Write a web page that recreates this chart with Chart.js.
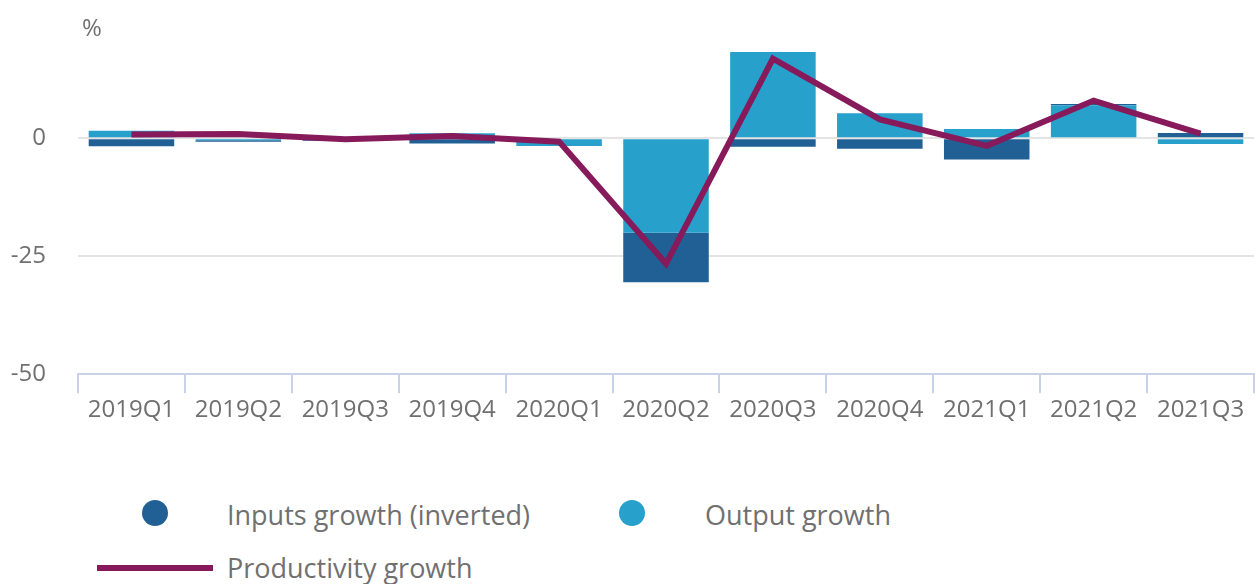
<!DOCTYPE html>
<html>
<head>
<meta charset="utf-8">
<script src="https://cdn.jsdelivr.net/npm/chart.js@4"></script>
<style>
  body { margin: 0; background: #fff; font-family: "Open Sans", sans-serif; }
  #wrap { position: relative; width: 1256px; height: 584px; overflow: hidden; }
  #chart { position: absolute; left: 0; top: -26px; }
  .leg { position: absolute; color: #707070; font-size: 27px; line-height: 30px; white-space: nowrap; }
  .unit { position: absolute; left: 82px; top: 12px; color: #707070; font-size: 24px; line-height: 30px; }
  .dot { position: absolute; width: 26px; height: 26px; border-radius: 50%; }
  .bar { position: absolute; height: 6px; background: #871a5b; }
</style>
</head>
<body>
<div id="wrap">
  <canvas id="chart" width="1256" height="466"></canvas>
  <div class="unit">%</div>
  <div class="dot" style="left:142px; top:500px; background:#206095;"></div>
  <div class="leg" style="left:227px; top:500px;">Inputs growth (inverted)</div>
  <div class="dot" style="left:619px; top:500px; background:#27a0cc;"></div>
  <div class="leg" style="left:705px; top:500px;">Output growth</div>
  <div class="bar" style="left:97px; top:565px; width:116px;"></div>
  <div class="leg" style="left:227px; top:553px;">Productivity growth</div>
</div>
<script>
const quarters = ["2019Q1", "2019Q2", "2019Q3", "2019Q4", "2020Q1", "2020Q2", "2020Q3", "2020Q4", "2021Q1", "2021Q2", "2021Q3"];
const outputGrowth = [1.6, -0.4, -0.3, 1.1, -1.6, -20.0, 18.3, 5.3, 2.0, 7.0, -1.2];
const inputsInverted = [-1.7, -0.3, -0.2, -1.1, 0.0, -10.5, -1.8, -2.2, -4.5, 0.3, 1.15];
const productivity = [0.8, 0.9, -0.2, 0.5, -0.7, -26.6, 16.9, 4.0, -1.6, 8.0, 1.0];
const yTicks = [-50, -25, 0];

const textColor = "#707070";

new Chart(document.getElementById("chart"), {
  type: "bar",
  data: {
    labels: quarters,
    datasets: [
      {
        type: "line",
        label: "Productivity growth",
        data: productivity,
        borderColor: "#871a5b",
        borderWidth: 6,
        pointRadius: 0,
        tension: 0,
        fill: false,
        stack: "prod",
        order: 0
      },
      {
        label: "Output growth",
        data: outputGrowth,
        backgroundColor: "#27a0cc",
        stack: "bars",
        order: 1,
        barPercentage: 0.8,
        categoryPercentage: 1
      },
      {
        label: "Inputs growth (inverted)",
        data: inputsInverted,
        backgroundColor: "#206095",
        stack: "bars",
        order: 1,
        barPercentage: 0.8,
        categoryPercentage: 1
      }
    ]
  },
  options: {
    responsive: false,
    animation: false,
    layout: { padding: { top: 20, right: 2, bottom: 12, left: 0 } },
    plugins: { legend: { display: false }, tooltip: { enabled: false } },
    scales: {
      x: {
        stacked: true,
        grid: { drawOnChartArea: false, drawTicks: true, tickLength: 19, color: "#c8d3e8", lineWidth: 2, offset: true },
        border: { color: "#c8d3e8", width: 2 },
        ticks: { color: textColor, font: { family: "Open Sans", size: 24 }, padding: 3, maxRotation: 0, autoSkip: false }
      },
      y: {
        stacked: true,
        min: -50,
        max: 25,
        afterBuildTicks: (axis) => { axis.ticks = yTicks.map(v => ({ value: v })); },
        afterFit: (axis) => { axis.width = 78; },
        grid: {
          drawTicks: false,
          lineWidth: 2,
          color: (ctx) => (ctx.tick && ctx.tick.value !== -50) ? "#e4e4e4" : "rgba(0,0,0,0)"
        },
        border: { display: false },
        ticks: {
          color: textColor,
          font: { family: "Open Sans", size: 24 },
          padding: 32
        }
      }
    }
  }
});
</script>
</body>
</html>
